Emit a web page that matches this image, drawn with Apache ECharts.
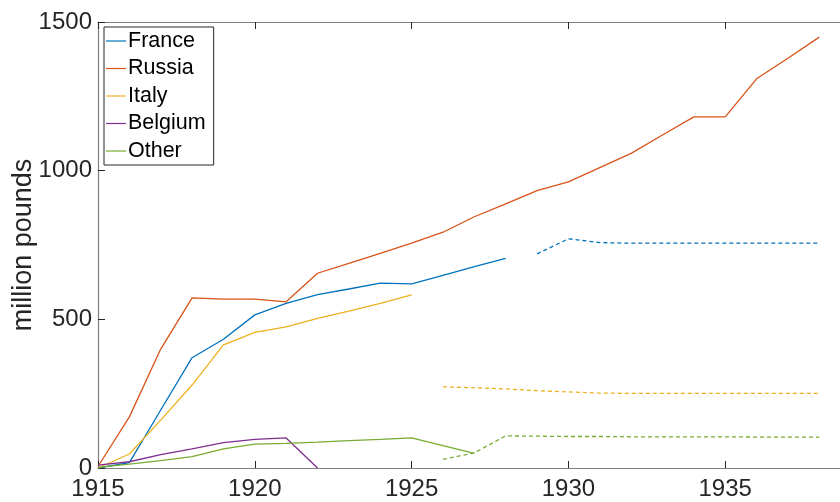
<!DOCTYPE html>
<html>
<head>
<meta charset="utf-8">
<script src="https://cdn.jsdelivr.net/npm/echarts@6/dist/echarts.min.js"></script>
<style>
html,body{margin:0;padding:0;background:#fff;}
#chart{width:840px;height:502px;}
</style>
</head>
<body>
<div id="chart"></div>
<script>
const years = [1915,1916,1917,1918,1919,1920,1921,1922,1923,1924,1925,1926,1927,1928,1929,1930,1931,1932,1933,1934,1935,1936,1937,1938];
const franceSolid  = [0,18,195,371,433,515,554,583,602,622,619,648,677,705,null,null,null,null,null,null,null,null,null,null];
const franceDashed = [null,null,null,null,null,null,null,null,null,null,null,null,null,null,720,771,758,756,756,756,756,756,756,756];
const russia       = [5,172,400,572,568,568,559,655,688,722,756,793,845,888,933,962,1010,1058,1120,1181,1181,1309,1378,1449];
const italySolid   = [0,47,161,279,414,456,475,503,528,554,582,null,null,null,null,null,null,null,null,null,null,null,null,null];
const italyDashed  = [null,null,null,null,null,null,null,null,null,null,null,273,270,266,260,256,252,251,251,251,251,251,251,251];
const belgium      = [10,21,45,64,85,96,101,0,null,null,null,null,null,null,null,null,null,null,null,null,null,null,null,null];
const otherSolid   = [2,13,25,38,64,80,83,87,92,96,101,75,49,null,null,null,null,null,null,null,null,null,null,null];
const otherDashed  = [null,null,null,null,null,null,null,null,null,null,null,29,51,108,107,106,106,105,105,105,105,104,104,104];
const legendNames  = ['France','Russia','Italy','Belgium','Other'];
const colors = {France:'#0072BD', Russia:'#D95319', Italy:'#EDB120', Belgium:'#7E2F8E', Other:'#77AC30'};

function pairs(arr){ return years.map((y,i)=>[y,arr[i]]).filter(p=>p[1]!==null); }
function line(name, arr, dashed){
  return {
    name: name, type:'line', data: pairs(arr), symbol:'none', silent:true,
    lineStyle:{color:colors[name], width:1.3, type: dashed? [4,3] : 'solid'},
    itemStyle:{color:colors[name]},
    animation:false, z: 3
  };
}
const font = '"Liberation Sans", Arial, Helvetica, sans-serif';
const chart = echarts.init(document.getElementById('chart'), null, {renderer:'canvas'});
const series = [
  line('France', franceSolid, false),
  line('Russia', russia, false),
  line('Italy', italySolid, false),
  line('Belgium', belgium, false),
  line('Other', otherSolid, false),
  Object.assign(line('France', franceDashed, true), {name:'France dashed'}),
  Object.assign(line('Italy', italyDashed, true), {name:'Italy dashed'}),
  Object.assign(line('Other', otherDashed, true), {name:'Other dashed'})
];
const plain = v => String(v);
chart.setOption({
  backgroundColor:'#ffffff',
  animation:false,
  grid:{left:98, top:22, right:-42, bottom:34, containLabel:false, outerBoundsMode:'none'},
  legend:{
    data: legendNames, orient:'vertical', left:104, top:27, icon:'path://M0,0H20V1.2H0Z',
    padding:[3,8,3,2], itemGap:5.5, itemWidth:20, itemHeight:14,
    borderColor:'#262626', borderWidth:1, backgroundColor:'#fff',
    textStyle:{fontFamily:font, fontSize:21.5, color:'#000', lineHeight:22, padding:[0,0,0,-3]},
    selectedMode:false
  },
  xAxis:[
    {type:'value', min:1915, max:1940, interval:5, position:'bottom',
     axisLine:{show:true, lineStyle:{color:'#808080', width:1.2}},
     axisTick:{show:true, inside:true, length:7, lineStyle:{color:'#262626', width:1}},
     axisLabel:{color:'#262626', fontFamily:font, fontSize:24, margin:9, formatter:plain},
     splitLine:{show:false}},
    {type:'value', min:1915, max:1940, interval:5, position:'top',
     axisLine:{show:true, onZero:false, lineStyle:{color:'#808080', width:1.2}},
     axisTick:{show:true, inside:true, length:7, lineStyle:{color:'#262626', width:1}},
     axisLabel:{show:false}, splitLine:{show:false}}
  ],
  yAxis:{
    type:'value', min:0, max:1500, interval:500,
    name:'million pounds', nameLocation:'middle', nameGap:61, nameMoveOverlap:false,
    nameTextStyle:{color:'#262626', fontFamily:font, fontSize:27},
    axisLine:{show:true, lineStyle:{color:'#808080', width:1.2}},
    axisTick:{show:true, inside:true, length:7, lineStyle:{color:'#262626', width:1}},
    axisLabel:{color:'#262626', fontFamily:font, fontSize:24, margin:6, formatter:plain},
    splitLine:{show:false}
  },
  series: series
});
</script>
</body>
</html>
